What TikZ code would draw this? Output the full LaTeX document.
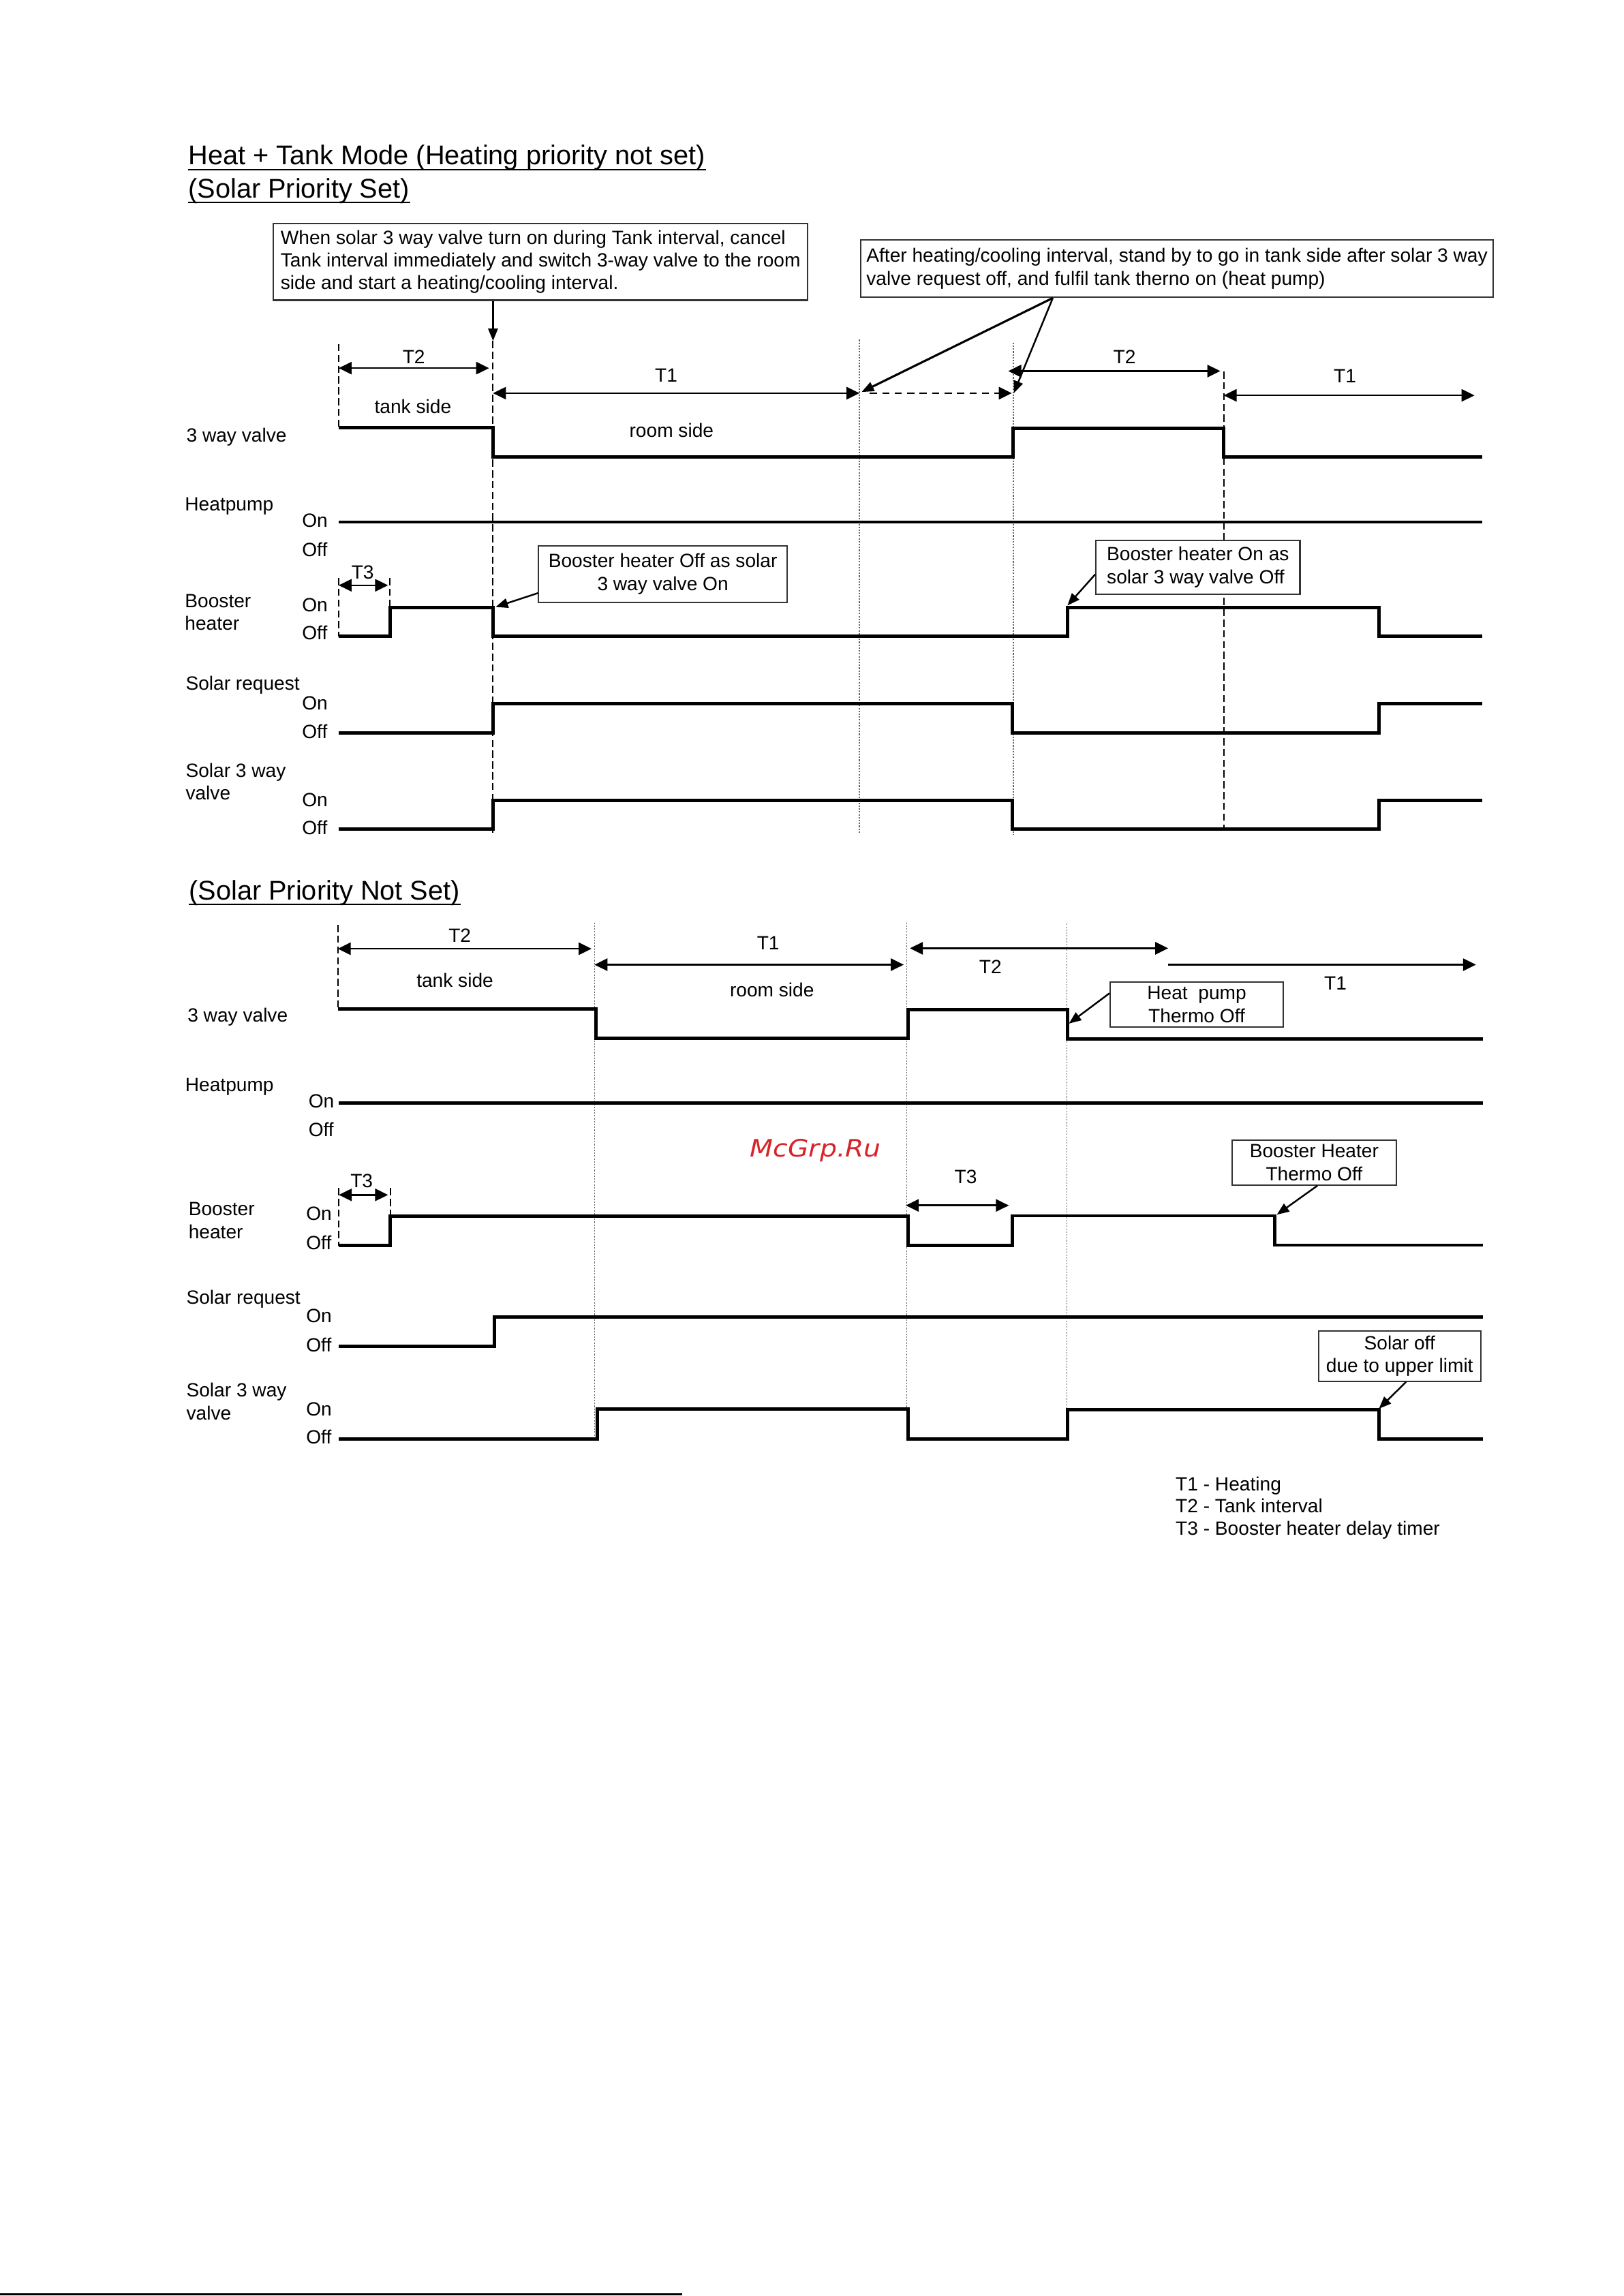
\documentclass[tikz,border=0pt]{standalone}
\usepackage{fontspec}
\setmainfont{Liberation Sans}
\newfontfamily\markfont{DejaVu Sans}
\usetikzlibrary{arrows.meta, calc}

\definecolor{markred}{RGB}{216,36,42}

\tikzset{
  wave/.style={line width=1.4pt, line join=miter},
  dimarr/.style={line width=0.75pt, {Triangle[length=1.9mm,width=1.8mm]}-{Triangle[length=1.9mm,width=1.8mm]}},
  dimone/.style={line width=0.75pt, -{Triangle[length=1.9mm,width=1.8mm]}},
  callout/.style={line width=0.7pt, -{Triangle[length=1.8mm,width=1.4mm]}},
  edgedash/.style={line width=0.6pt, dash pattern=on 3pt off 1.5pt},
  edgedot/.style={line width=0.45pt, black!60, dash pattern=on 0.6pt off 0.6pt},
  note/.style={draw=black!80, line width=0.6pt, fill=white, anchor=north west, inner xsep=0.8mm, inner ysep=0.3mm},
  lbl/.style={anchor=base west, inner sep=0pt},
  tlbl/.style={anchor=base, inner sep=0pt},
  headline/.style={anchor=base west, inner sep=0pt, font=\fontsize{11.3}{13.5}\selectfont},
}

\begin{document}
\begin{tikzpicture}[x=0.2148mm, y=-0.2148mm, font=\fontsize{8}{9.5}\selectfont]
        \useasboundingbox (0,0) rectangle (1109,1568);

        % Headings (underlined)
        \node[headline] (ttl1) at (128.3,112.5) {Heat + Tank Mode (Heating priority not set)};
        \node[headline] (ttl2) at (128.3,135) {(Solar Priority Set)};
        \node[headline] (ttl3) at (128.8,614.5) {(Solar Priority Not Set)};
        \draw[line width=0.6pt] ([yshift=-2pt]ttl1.base west) -- ([yshift=-2pt]ttl1.base east);
        \draw[line width=0.6pt] ([yshift=-2pt]ttl2.base west) -- ([yshift=-2pt]ttl2.base east);
        \draw[line width=0.6pt] ([yshift=-2pt]ttl3.base west) -- ([yshift=-2pt]ttl3.base east);

        % ===== Solar priority set =====
        % Signal names
        \node[lbl] (a3wv) at (127,301.7) {3 way valve};
        \node[lbl] (ahp) at (126,349) {Heatpump};
        \node[lbl] (ahpon) at (206,359.8) {On};
        \node[lbl] (ahpoff) at (206,379.8) {Off};
        \node[lbl] (abh1) at (126,414.7) {Booster};
        \node[lbl] (abh2) at (126,430.4) {heater};
        \node[lbl] (abhon) at (206,417.5) {On};
        \node[lbl] (abhoff) at (206,437) {Off};
        \node[lbl] (asr) at (126.5,471) {Solar request};
        \node[lbl] (asron) at (206,484.7) {On};
        \node[lbl] (asroff) at (206,504.5) {Off};
        \node[lbl] (asv1) at (126.5,530.6) {Solar 3 way};
        \node[lbl] (asv2) at (126.5,546) {valve};
        \node[lbl] (asvon) at (206,551) {On};
        \node[lbl] (asvoff) at (206,570) {Off};

        % Time marks
        \draw[edgedash] (231.3,235) -- (231.3,292.2);
        \draw[edgedash] (336.7,232.8) -- (336.7,568.8);
        \draw[edgedot] (587,232) -- (587,568.5);
        \draw[edgedot] (692,234) -- (692,570);
        \draw[edgedash] (835.7,253.7) -- (835.7,566);
        \draw[edgedash] (231.3,394.7) -- (231.3,434.6);
        \draw[edgedash] (266.3,394.7) -- (266.3,414.7);

        % Waveforms
        \draw[wave] (231.3,292.2) -- (336.7,292.2) -- (336.7,311.9) -- (692,311.9) -- (692,292.5) -- (835.7,292.5) -- (835.7,312) -- (1012.5,312);
        \draw[wave] (231.3,356.5) -- (1012.5,356.5);
        \draw[wave] (231.3,434.6) -- (266.3,434.6) -- (266.3,414.7) -- (336.7,414.7) -- (336.7,434.6) -- (729,434.6) -- (729,414.7) -- (941.7,414.7) -- (941.7,434.6) -- (1012.5,434.6);
        \draw[wave] (231.3,500.6) -- (336.7,500.6) -- (336.7,480.7) -- (691.4,480.7) -- (691.4,500.5) -- (941.7,500.5) -- (941.7,480.7) -- (1012.5,480.7);
        \draw[wave] (231.3,566) -- (336.7,566) -- (336.7,546.5) -- (691.4,546.5) -- (691.4,566) -- (941.7,566) -- (941.7,546.5) -- (1012.5,546.5);

        % Intervals
        \coordinate (p1a) at (231.3,251.4); \coordinate (p1b) at (334,251.4);
        \coordinate (p2a) at (336.7,268.5); \coordinate (p2b) at (587,268.5);
        \coordinate (p3a) at (594,268.5); \coordinate (p3b) at (691,268.5);
        \coordinate (p4a) at (688.6,253.4); \coordinate (p4b) at (833.4,253.4);
        \coordinate (p5a) at (835.7,270); \coordinate (p5b) at (1007,270);
        \coordinate (p6a) at (231.3,399.7); \coordinate (p6b) at (265,399.7);
        \draw[dimarr] (p1a) -- (p1b);
        \draw[dimarr] (p2a) -- (p2b);
        \draw[dimone, dash pattern=on 3pt off 2.2pt] (p3a) -- (p3b);
        \draw[dimarr] (p4a) -- (p4b);
        \draw[dimarr] (p5a) -- (p5b);
        \draw[dimarr] (p6a) -- (p6b);
        \node[tlbl] (q1) at (282.6,248.3) {T2};
        \node[tlbl] (q2) at (455,260.7) {T1};
        \node[tlbl] (q3) at (768,248.3) {T2};
        \node[tlbl] (q4) at (918.5,261.5) {T1};
        \node[tlbl] (q5) at (247.7,395.5) {T3};
        \node[tlbl] (q6) at (282,282.4) {tank side};
        \node[tlbl] (q7) at (458.6,298.7) {room side};

        % Notes
        \node[note, align=left, minimum width=78.4mm, minimum height=11.26mm] (note1) at (186.2,152.1)
          {When solar 3 way valve turn on during Tank interval, cancel\\Tank interval immediately and switch 3-way valve to the room\\side and start a heating/cooling interval.};
        \node[note, align=left, minimum width=92.69mm, minimum height=8.42mm] (note2) at (587.5,163.3)
          {After heating/cooling interval, stand by to go in tank side after solar 3 way\\valve request off, and fulfil tank therno on (heat pump)};
        \node[note, align=center, minimum width=36.47mm, minimum height=8.29mm] (note3) at (367.3,372.2)
          {Booster heater Off as solar\\3 way valve On};
        \node[note, align=left, minimum width=29.92mm, minimum height=7.9mm] (note4) at (748,368.4)
          {Booster heater On as\\solar 3 way valve Off};

        \coordinate (c1) at (336.7,232.8);
        \coordinate (c2a) at (588.4,267.7);
        \coordinate (c2b) at (692.3,268.5);
        \coordinate (c3) at (338.5,414.5);
        \coordinate (c4) at (729,413.5);
        \draw[callout] (note1.south -| c1) -- (c1);
        \draw[callout, line width=0.9pt] ($(note2.south west)!0.304!(note2.south east)$) -- (c2a);
        \draw[callout] ($(note2.south west)!0.304!(note2.south east)$) -- (c2b);
        \draw[callout] ($(note3.north west)!0.83!(note3.south west)$) -- (c3);
        \draw[callout] ($(note4.north west)!0.63!(note4.south west)$) -- (c4);

        % ===== Solar priority not set =====
        % Signal names
        \node[lbl] (b3wv) at (127.8,698) {3 way valve};
        \node[lbl] (bhp) at (126.2,745.2) {Heatpump};
        \node[lbl] (bhpon) at (210.4,756.5) {On};
        \node[lbl] (bhpoff) at (210.4,776.2) {Off};
        \node[lbl] (bbh1) at (128.5,830.2) {Booster};
        \node[lbl] (bbh2) at (128.5,845.8) {heater};
        \node[lbl] (bbhon) at (208.8,833.3) {On};
        \node[lbl] (bbhoff) at (208.8,853.2) {Off};
        \node[lbl] (bsr) at (127,890.7) {Solar request};
        \node[lbl] (bsron) at (208.8,903.2) {On};
        \node[lbl] (bsroff) at (208.8,923.3) {Off};
        \node[lbl] (bsv1) at (127,954) {Solar 3 way};
        \node[lbl] (bsv2) at (127,969.9) {valve};
        \node[lbl] (bsvon) at (208.8,966.8) {On};
        \node[lbl] (bsvoff) at (208.8,986.2) {Off};

        % Time marks
        \draw[edgedash] (230.7,631.6) -- (230.7,689);
        \draw[edgedot] (406,630) -- (406,982.6);
        \draw[edgedot] (619.2,630) -- (619.2,982.6);
        \draw[edgedot] (728.6,630.8) -- (728.6,982.6);
        \draw[edgedash] (231.4,811.3) -- (231.4,850.7);
        \draw[edgedash] (266.6,811.3) -- (266.6,830.5);

        % Waveforms
        \draw[wave] (230.7,689) -- (407,689) -- (407,709.2) -- (620.3,709.2) -- (620.3,689.4) -- (729,689.4) -- (729,709.5) -- (1012.8,709.5);
        \draw[wave] (231.4,753.4) -- (1012.8,753.4);
        \draw[wave] (231.4,850.7) -- (266.6,850.7) -- (266.6,830.5) -- (620,830.5) -- (620,850.5) -- (691.4,850.5) -- (691.4,830.3) -- (870.6,830.3) -- (870.6,850.3) -- (1012.8,850.3);
        \draw[wave] (231.4,919.4) -- (337.5,919.4) -- (337.5,899.3) -- (1012.8,899.3);
        \draw[wave] (231.4,982.6) -- (408,982.6) -- (408,962.4) -- (620,962.4) -- (620,982.6) -- (729.2,982.6) -- (729.2,962.7) -- (941.7,962.7) -- (941.7,982.6) -- (1012.8,982.6);

        % Intervals
        \coordinate (r1a) at (230.7,647.9); \coordinate (r1b) at (404,647.9);
        \coordinate (r2a) at (406,658.8); \coordinate (r2b) at (617.2,658.8);
        \coordinate (r3a) at (621.4,647.6); \coordinate (r3b) at (797.8,647.6);
        \coordinate (r4a) at (797.8,658.8); \coordinate (r4b) at (1008,658.8);
        \coordinate (r5a) at (231.4,816); \coordinate (r5b) at (265,816);
        \coordinate (r6a) at (618.6,823.2); \coordinate (r6b) at (689,823.2);
        \draw[dimarr] (r1a) -- (r1b);
        \draw[dimarr] (r2a) -- (r2b);
        \draw[dimarr] (r3a) -- (r3b);
        \draw[dimone] (r4a) -- (r4b);
        \draw[dimarr] (r5a) -- (r5b);
        \draw[dimarr] (r6a) -- (r6b);
        \node[tlbl] (s1) at (314,643.2) {T2};
        \node[tlbl] (s2) at (524.6,648.7) {T1};
        \node[tlbl] (s3) at (676.4,665) {T2};
        \node[tlbl] (s4) at (912,675.8) {T1};
        \node[tlbl] (s5) at (247,810.8) {T3};
        \node[tlbl] (s6) at (659.5,808.4) {T3};
        \node[tlbl] (s7) at (310.7,674.3) {tank side};
        \node[tlbl] (s8) at (527.2,680.5) {room side};

        % Notes
        \node[note, align=center, minimum width=25.39mm, minimum height=6.66mm] (note5) at (757.7,670)
          {Heat\ \ pump\\Thermo Off};
        \node[note, align=center, minimum width=24.06mm, minimum height=6.55mm] (note6) at (841,778.2)
          {Booster Heater\\Thermo Off};
        \node[note, align=center, minimum width=23.78mm, minimum height=7.39mm] (note7) at (900,908.3)
          {Solar off\\due to upper limit};

        \coordinate (c5) at (730,699);
        \coordinate (c6) at (872,829.5);
        \coordinate (c7) at (941.7,962);
        \draw[callout] ($(note5.north west)!0.26!(note5.south west)$) -- (c5);
        \draw[callout] ($(note6.south west)!0.52!(note6.south east)$) -- (c6);
        \draw[callout] ($(note7.south west)!0.54!(note7.south east)$) -- (c7);

        % Legend
        \node[lbl] (key1) at (802.6,1018) {T1 - Heating};
        \node[lbl] (key2) at (802.6,1033) {T2 - Tank interval};
        \node[lbl] (key3) at (802.6,1048.3) {T3 - Booster heater delay timer};

        % Watermark and page rule
        \node[tlbl, text=markred, font=\markfont\itshape\fontsize{10}{12}\selectfont] (mark) at (557,789.9) {\scalebox{1.12}[1]{McGrp.Ru}};
        \draw[line width=0.9pt] (0,1567) -- (466,1567);
\end{tikzpicture}
\end{document}
